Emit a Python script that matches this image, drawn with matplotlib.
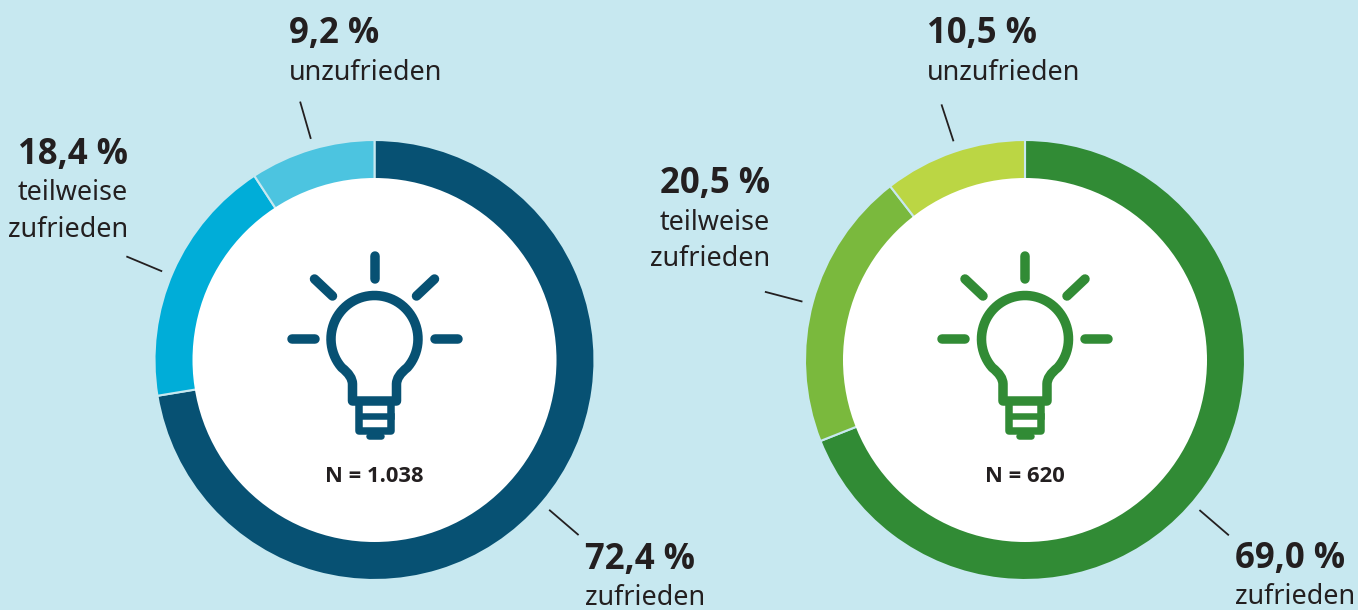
import numpy as np
import matplotlib
matplotlib.use('Agg')
import matplotlib.pyplot as plt
from matplotlib.patches import Circle, PathPatch
from matplotlib.path import Path

plt.rcParams['font.family'] = ['Noto Sans', 'DejaVu Sans']

categories = ['zufrieden', 'teilweise\nzufrieden', 'unzufrieden']
values_left = [72.4, 18.4, 9.2]
values_right = [69.0, 20.5, 10.5]
labels_left = ['72,4 %', '18,4 %', '9,2 %']
labels_right = ['69,0 %', '20,5 %', '10,5 %']
n_left = 'N = 1.038'
n_right = 'N = 620'
colors_left = ['#075173', '#00ADD8', '#4CC4E0']
colors_right = ['#318B35', '#7AB93D', '#BBD644']

BG = '#C7E8F0'
INK = '#231F20'
PX = 0.72  # one pixel in points at dpi 100
BOLD = ['Open Sans', 'DejaVu Sans']


def draw_bulb(ax, cx, cy, color):
    z = 5
    # rays
    for (x0, y0, x1, y1) in [(0, -104, 0, -81), (-83, -21, -60, -21), (83, -21, 60, -21),
                             (-60, -81, -42, -64), (60, -81, 42, -64)]:
        ax.plot([cx + x0, cx + x1], [cy + y0, cy + y1], color=color, lw=9.5 * PX,
                solid_capstyle='round', zorder=z)

    # glass, neck on the left, arc over the top, neck on the right
    ang = np.radians(np.linspace(221, -41, 60))
    head_x = cx + 43.5 * np.cos(ang)
    head_y = cy - 21 - 43.5 * np.sin(ang)
    verts = [(cx - 22, cy + 41), (cx - 22, cy + 24)]
    codes = [Path.MOVETO, Path.LINETO]
    verts += [(cx - 22, cy + 16), (head_x[0], head_y[0])]
    codes += [Path.CURVE3, Path.CURVE3]
    verts += list(zip(head_x[1:], head_y[1:]))
    codes += [Path.LINETO] * (len(ang) - 1)
    verts += [(cx + 22, cy + 16), (cx + 22, cy + 24)]
    codes += [Path.CURVE3, Path.CURVE3]
    verts += [(cx + 22, cy + 41)]
    codes += [Path.LINETO]
    verts += [(cx - 22, cy + 41)]
    codes += [Path.CLOSEPOLY]
    ax.add_patch(PathPatch(Path(verts, codes), fc='none', ec=color, lw=9.5 * PX,
                           joinstyle='round', zorder=z))

    # screw base
    ax.plot([cx - 16, cx - 16, cx + 16, cx + 16], [cy + 41, cy + 71, cy + 71, cy + 41],
            color=color, lw=7.5 * PX, solid_joinstyle='round', zorder=z)
    ax.plot([cx - 16, cx + 16], [cy + 56, cy + 56], color=color, lw=6.5 * PX, zorder=z)
    ax.plot([cx - 6, cx + 6], [cy + 76, cy + 76], color=color, lw=6.5 * PX,
            solid_capstyle='round', zorder=z)


def draw_donut(ax, cx, values, colors, n_text, leader_shift):
    cy = 360
    ax.pie(values, colors=colors, center=(cx, cy), radius=220, startangle=-90,
           wedgeprops={'edgecolor': BG, 'linewidth': 1.5}, frame=True)
    ax.add_patch(Circle((cx, cy), 182, fc='white', ec='none', zorder=3))
    ax.text(cx, 482, n_text, fontsize=15.8, fontweight='bold', family=BOLD, color=INK,
            ha='center', va='baseline', zorder=6)
    draw_bulb(ax, cx, cy, colors[0])

    # leaders point from the middle of each slice, clockwise from 12 o'clock
    cum = np.cumsum(values)
    mids = (cum - np.array(values) / 2) * 3.6 + np.array(leader_shift)
    for m in np.radians(mids):
        ax.plot([cx + 231 * np.sin(m), cx + 268 * np.sin(m)],
                [cy - 231 * np.cos(m), cy - 268 * np.cos(m)],
                color=INK, lw=1.8 * PX, zorder=2)


def label(ax, x, y, pct, cat, ha):
    ax.text(x, y, pct, fontsize=25, fontweight='bold', family=BOLD, color=INK, ha=ha,
            va='baseline')
    for i, line in enumerate(cat.split('\n')):
        ax.text(x, y + 36.5 * (i + 1), line, fontsize=19.4, color=INK, ha=ha, va='baseline')


fig = plt.figure(figsize=(13.58, 6.10), dpi=100, facecolor=BG)
ax = fig.add_axes([0, 0, 1, 1])
ax.set_facecolor(BG)

draw_donut(ax, 374.5, values_left, colors_left, n_left, [0.3, -1.1, 0.5])
draw_donut(ax, 1025, values_right, colors_right, n_right, [6.5, -0.6, 0.8])

label(ax, 585, 568.5, labels_left[0], categories[0], 'left')
label(ax, 128, 164, labels_left[1], categories[1], 'right')
label(ax, 289, 43, labels_left[2], categories[2], 'left')
label(ax, 1235, 568, labels_right[0], categories[0], 'left')
label(ax, 770, 193, labels_right[1], categories[1], 'right')
label(ax, 927, 43, labels_right[2], categories[2], 'left')

ax.set_xlim(0, 1358)
ax.set_ylim(610, 0)
ax.set_aspect('equal')
ax.axis('off')

fig.savefig('out.png', dpi=100, facecolor=BG)
